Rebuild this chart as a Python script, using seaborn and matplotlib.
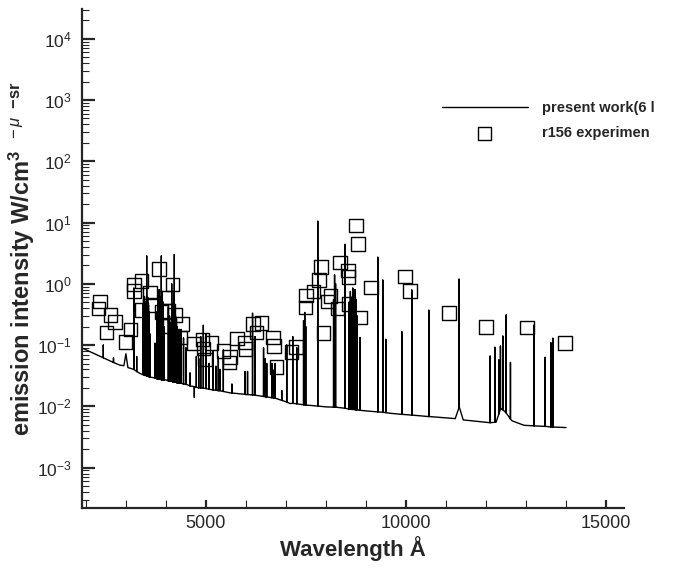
import numpy as np
import pandas as pd
import matplotlib.pyplot as plt
import seaborn as sns
from matplotlib.ticker import MultipleLocator, LogLocator, NullFormatter, FixedLocator

# continuum of the computed spectrum (wavelength in A, intensity)
base_wl = [1930, 2350, 2850, 2950, 3000, 3050, 3350, 4000, 4700, 4990, 5600, 6000,
           6500, 7100, 7500, 7770, 8000, 8770, 9600, 10600, 11230, 11330, 11430,
           12100, 12250, 12370, 12650, 12950, 13500, 14000]
base_val = [0.088, 0.066, 0.047, 0.046, 0.072, 0.043, 0.0345, 0.027, 0.021, 0.0195,
            0.0166, 0.0155, 0.014, 0.0111, 0.0105, 0.0101, 0.0098, 0.0087, 0.0077,
            0.0068, 0.0063, 0.0098, 0.006, 0.0054, 0.0055, 0.0092, 0.0058, 0.0049,
            0.0047, 0.0045]

# computed emission lines: position, top, foot on the continuum
line_wl = [2435, 2690, 3200, 3270, 3420, 3440, 3465, 3490, 3520, 3545, 3565, 3585,
           3610, 3728, 3780, 3805, 3830, 3860, 3885, 3910, 3935, 3960, 4060, 4090,
           4120, 4145, 4175, 4210, 4240, 4280, 4330, 4380, 4440, 4500, 4603, 4710,
           4760, 4820, 4870, 4935, 5005, 5080, 5180, 5250, 5310, 5350, 5435, 5650,
           5980, 6040, 6165, 6228, 6440, 6480, 6520, 6650, 6700, 6730, 6895, 7020,
           7170, 7270, 7440, 7470, 7495, 7795, 8190, 8215, 8240, 8478, 8580, 8610,
           8640, 8670, 8700, 8725, 8750, 8775, 8853, 9295, 9420, 9495, 9895, 10145,
           10570, 11328, 12103, 12220, 12320, 12360, 12420, 12503, 12610, 13203,
           13478, 13620, 13670]
line_peak = [0.10, 0.062, 0.85, 0.065, 0.45, 0.55, 0.62, 0.50, 2.84, 0.60, 0.45, 0.35,
             0.15, 0.107, 0.35, 0.70, 0.80, 0.60, 2.84, 0.75, 0.50, 0.20, 0.42, 0.30,
             0.23, 1.00, 0.45, 3.00, 0.30, 0.20, 0.18, 0.18, 0.13, 0.09, 0.035, 0.014,
             0.065, 0.06, 0.137, 0.21, 0.15, 0.05, 0.08, 0.045, 0.065, 0.04, 0.083, 0.023,
             0.037, 0.037, 0.33, 0.137, 0.09, 0.06, 0.05, 0.05, 0.039, 0.05, 0.018, 0.10,
             0.137, 0.09, 0.25, 0.34, 0.20, 10.5, 0.55, 1.40, 1.00, 4.40, 0.50, 0.75,
             0.60, 0.85, 0.70, 0.80, 0.55, 0.30, 0.133, 2.71, 1.15, 0.124, 0.165, 0.79,
             0.37, 1.20, 0.066, 0.092, 0.057, 0.096, 0.14, 0.31, 0.052, 0.212,
             0.063, 0.109, 0.129]
line_foot = [0.062, 0.052, 0.040, 0.037, 0.033, 0.033, 0.032, 0.032, 0.031, 0.031, 0.031, 0.030,
             0.030, 0.029, 0.028, 0.028, 0.028, 0.028, 0.027, 0.027, 0.027, 0.027, 0.026, 0.026,
             0.026, 0.026, 0.025, 0.025, 0.025, 0.024, 0.024, 0.024, 0.023, 0.023, 0.0215, 0.021,
             0.0205, 0.020, 0.020, 0.0198, 0.0195, 0.019, 0.0185, 0.0183, 0.018, 0.018, 0.0175, 0.0165,
             0.0157, 0.0156, 0.0153, 0.0152, 0.0145, 0.0144, 0.0143, 0.0138, 0.0137, 0.0136, 0.0125, 0.0118,
             0.0112, 0.0110, 0.0106, 0.0106, 0.0105, 0.0101, 0.0097, 0.0097, 0.0097, 0.0093, 0.0090, 0.0090,
             0.0089, 0.0089, 0.0089, 0.0088, 0.0088, 0.0088, 0.0086, 0.0081, 0.0080, 0.0079, 0.0074, 0.0072,
             0.0068, 0.0097, 0.0054, 0.0055, 0.0075, 0.0090, 0.0088, 0.0078, 0.0062, 0.0048,
             0.0047, 0.0046, 0.0046]

# r156 experiment
exp_wl = [2310, 2353, 2520, 2620, 2728, 2995, 3120, 3203, 3203, 3395, 3395, 3603, 3685,
          3828, 3895, 4003, 4060, 4085, 4170, 4228, 4353, 4420, 4685, 4920, 4935, 4978,
          5145, 5435, 5585, 5603, 5770, 5978, 5990, 6170, 6260, 6390, 6678, 6703, 6765,
          7140, 7253, 7495, 7490, 7685, 7828, 7870, 7940, 8040, 8115, 8285, 8353, 8553,
          8560, 8560, 8753, 8795, 8865, 9128, 9978, 10103, 11078, 12003, 13020, 13978]
exp_val = [0.398, 0.510, 0.161, 0.309, 0.240, 0.113, 0.181, 0.98, 0.771, 1.12, 0.373,
           0.716, 0.451, 1.73, 0.350, 0.593, 0.360, 0.204, 0.98, 0.309, 0.134, 0.220,
           0.107, 0.124, 0.0883, 0.0584, 0.109, 0.0807, 0.0518, 0.0644, 0.128, 0.110,
           0.0870, 0.220, 0.161, 0.231, 0.133, 0.0964, 0.0442, 0.0777, 0.0938, 0.639,
           0.413, 0.743, 1.15, 1.88, 0.159, 0.510, 0.632, 0.398, 2.24, 1.65, 1.29, 0.473,
           9.03, 4.47, 0.281, 0.871, 1.31, 0.763, 0.337, 0.199, 0.192, 0.109]

# axis ticks shown
x_ticks = [5000, 10000, 15000]
y_ticks = [1e-3, 1e-2, 1e-1, 1e0, 1e1, 1e2, 1e3, 1e4]

sns.set_style("ticks")
plt.rcParams['font.family'] = ['Liberation Sans', 'DejaVu Sans']
plt.rcParams['mathtext.fontset'] = 'custom'
plt.rcParams['mathtext.rm'] = 'Liberation Sans'
plt.rcParams['mathtext.it'] = 'Liberation Sans:italic'
plt.rcParams['mathtext.bf'] = 'Liberation Sans:bold'

# spectrum as one polyline: continuum points plus a spike for every line
rows = [(w, v, 0) for w, v in zip(base_wl, base_val)]
for w, top, foot in zip(line_wl, line_peak, line_foot):
    rows += [(w, foot, 0), (w, top, 1), (w, foot, 2)]
spec = pd.DataFrame(rows, columns=['wl', 'val', 'step'])
spec = spec.sort_values(['wl', 'step'], kind='stable')

exp = pd.DataFrame({'wl': exp_wl, 'val': exp_val})

fig, ax = plt.subplots(figsize=(6.75, 5.7), dpi=100)
fig.subplots_adjust(left=0.121, right=0.924, bottom=0.109, top=0.984)

sns.lineplot(data=spec, x='wl', y='val', sort=False, estimator=None,
             color='black', lw=1.0, label='present work(6 l', ax=ax)
sns.scatterplot(data=exp, x='wl', y='val', marker='s', s=95, fc='none',
                ec='black', linewidth=1.0, label='r156 experimen', ax=ax)

ax.set_yscale('log')
ax.set_xlim(1895, 15440)
ax.set_ylim(2.2e-4, 3.05e4)

ax.xaxis.set_major_locator(FixedLocator(x_ticks))
ax.xaxis.set_minor_locator(MultipleLocator(1000))
ax.yaxis.set_major_locator(FixedLocator(y_ticks))
ax.yaxis.set_minor_locator(LogLocator(base=10, subs=np.arange(2, 10), numticks=20))
ax.yaxis.set_minor_formatter(NullFormatter())

sns.despine(ax=ax)
for side in ['left', 'bottom']:
    ax.spines[side].set_linewidth(1.6)

ax.tick_params(axis='y', which='major', direction='in', length=9.5, width=1.6,
               pad=7, labelsize=12.5)
ax.tick_params(axis='y', which='minor', direction='in', length=5, width=0.8)
ax.tick_params(axis='x', which='major', direction='in', length=6, width=1.6,
               pad=5, labelsize=13)
ax.tick_params(axis='x', which='minor', direction='in', length=6, width=0.8)

ax.set_xlabel('Wavelength Å', fontsize=16, fontweight='bold')
ax.set_ylabel(r'emission intensity W/cm$^{\mathbf{3}\ \ -\mu\ \ \mathbf{-sr}}$',
              fontsize=17, fontweight='bold')
ax.yaxis.set_label_coords(-0.082, 0.5)
ax.xaxis.set_label_coords(0.5, -0.057)

handles, labels = ax.get_legend_handles_labels()
ax.legend(handles, labels, loc='upper left', bbox_to_anchor=(0.664, 0.815),
          frameon=False, borderpad=0, borderaxespad=0, handlelength=5.9,
          handletextpad=1.0, labelspacing=0.75, scatterpoints=1,
          prop={'weight': 'bold', 'size': 10.5})

fig.savefig('out.png', dpi=100)
